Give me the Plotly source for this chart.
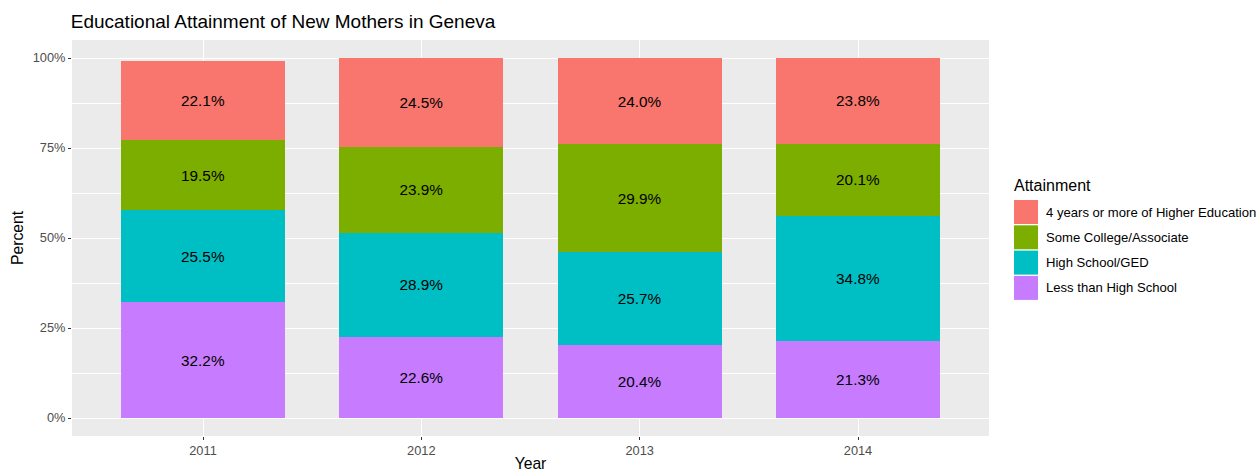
import plotly.graph_objects as go

years = ["2011", "2012", "2013", "2014"]
categories = ["4 years or more of Higher Education", "Some College/Associate",
              "High School/GED", "Less than High School"]
higher_ed = [22.1, 24.5, 24.0, 23.8]
some_college = [19.5, 23.9, 29.9, 20.1]
high_school = [25.5, 28.9, 25.7, 34.8]
less_than_hs = [32.2, 22.6, 20.4, 21.3]
colors = ["#F8766D", "#7CAE00", "#00BFC4", "#C77CFF"]
y_ticks = [0, 25, 50, 75, 100]
y_minor = [12.5, 37.5, 62.5, 87.5]

series = [higher_ed, some_college, high_school, less_than_hs]

FONT = "Liberation Sans, Arial, sans-serif"
W, H = 1260, 472
L, R, T, B = 72, 989, 40, 436

fig = go.Figure()
# stack bottom-up: Less than HS first
for name, vals, col in reversed(list(zip(categories, series, colors))):
    fig.add_trace(go.Bar(
        x=years, y=vals, name=name, marker=dict(color=col, line=dict(width=0)),
        text=[f"{v:.1f}%" for v in vals], textposition="inside",
        insidetextanchor="middle", textangle=0,
        textfont=dict(family=FONT, size=15.3, color="black"),
        showlegend=False, hoverinfo="skip",
    ))

def px_x(p):
    return (p - L) / (R - L)

def px_y(p):
    return (B - p) / (B - T)

shapes = []
annotations = []
# legend
annotations.append(dict(x=px_x(1012), y=px_y(185), xref="paper", yref="paper",
                        text="Attainment", showarrow=False, xanchor="left", yanchor="middle",
                        font=dict(family=FONT, size=16, color="black")))
key_top = 200
for i, (name, col) in enumerate(zip(categories, colors)):
    y0 = key_top + i * 25.3
    shapes.append(dict(type="rect", xref="paper", yref="paper",
                       x0=px_x(1014), x1=px_x(1038), y0=px_y(y0 + 24), y1=px_y(y0),
                       fillcolor=col, line=dict(width=0)))
    annotations.append(dict(x=px_x(1044), y=px_y(y0 + 12), xref="paper", yref="paper",
                            text=name, showarrow=False, xanchor="left", yanchor="middle",
                            font=dict(family=FONT, size=13.1, color="black")))

fig.update_layout(
    width=W, height=H,
    margin=dict(l=L, r=W - R, t=T, b=H - B, pad=0, autoexpand=False),
    barmode="stack", bargap=0.25,
    plot_bgcolor="#EBEBEB", paper_bgcolor="white",
    font=dict(family=FONT),
    title=dict(text="Educational Attainment of New Mothers in Geneva",
               x=L / W - 0.001, xanchor="left", y=1 - 21 / H, yanchor="middle",
               font=dict(family=FONT, size=19, color="black")),
    xaxis=dict(type="category", range=[-0.6, 3.6], showgrid=True, gridcolor="white",
               gridwidth=1.1, ticks="outside", ticklen=3, tickcolor="#333333", tickwidth=1.1,
               tickfont=dict(family=FONT, size=12.8, color="#4D4D4D"), automargin=False,
               title=dict(text="Year", font=dict(family=FONT, size=15.7, color="black"), standoff=5),
               zeroline=False, showline=False),
    yaxis=dict(range=[-5, 105], tickvals=y_ticks, ticktext=[f"{t}%" for t in y_ticks],
               showgrid=True, gridcolor="white", gridwidth=1.1, automargin=False,
               minor=dict(tickvals=y_minor, showgrid=True, gridcolor="white", gridwidth=0.55, ticks=""),
               ticks="outside", ticklen=3, tickcolor="#333333", tickwidth=1.1,
               tickfont=dict(family=FONT, size=12.8, color="#4D4D4D"),
               title=dict(text="Percent", font=dict(family=FONT, size=15.7, color="black"), standoff=5),
               zeroline=False, showline=False),
    shapes=shapes, annotations=annotations,
)

fig.write_html("out.html", config={"displayModeBar": False},
               post_script="document.body.style.margin='0';document.body.style.padding='0';")
